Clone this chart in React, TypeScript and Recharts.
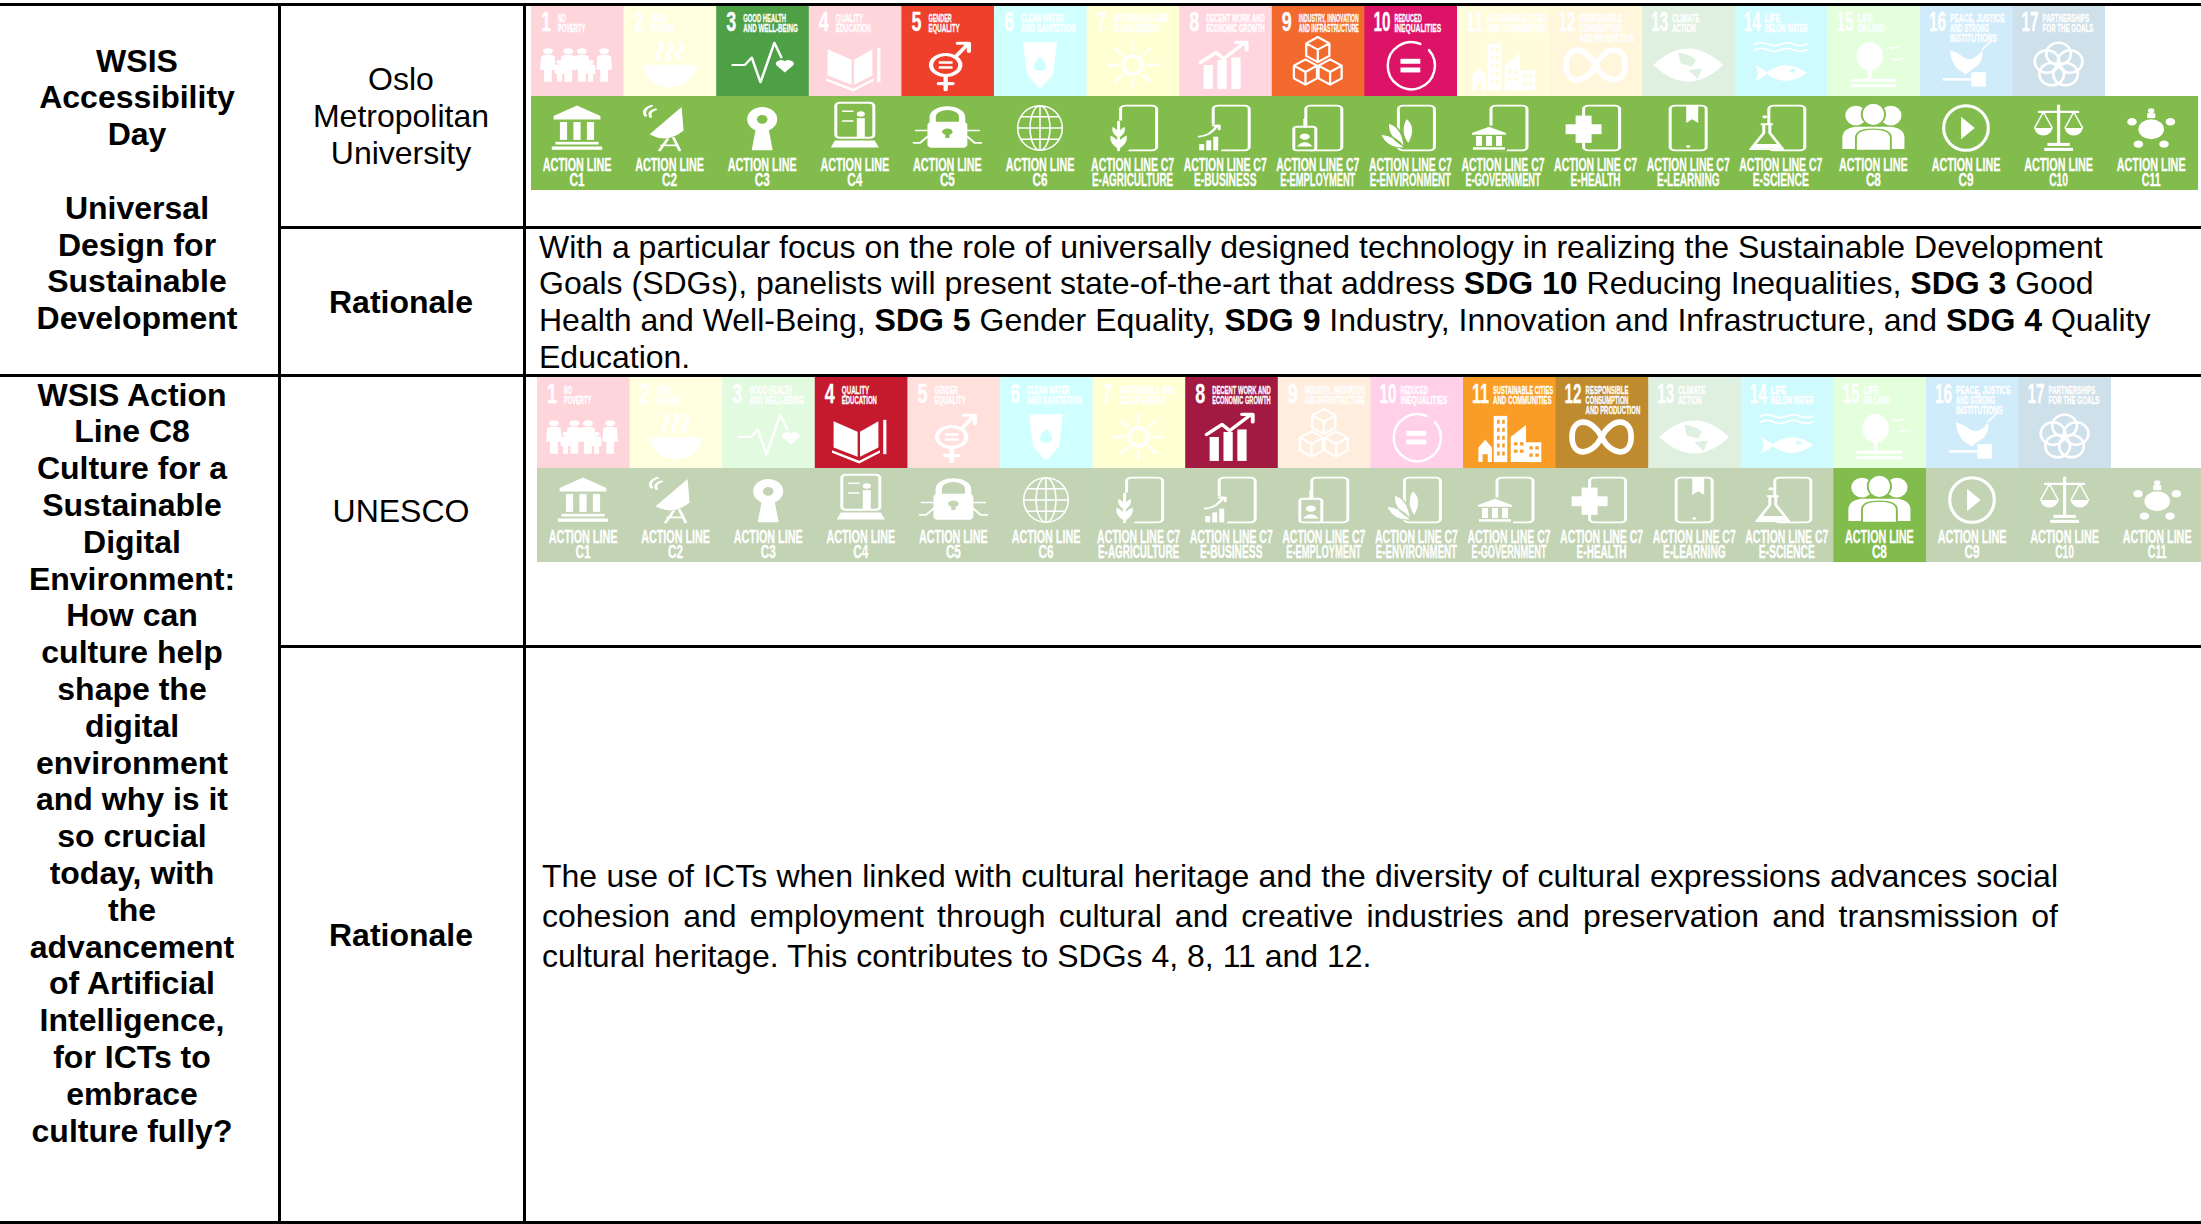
import React from "react";
import { BarChart, Bar, XAxis, YAxis } from "recharts";

const sdgNumbers = [1, 2, 3, 4, 5, 6, 7, 8, 9, 10, 11, 12, 13, 14, 15, 16, 17];
const sdgTitles = [
  ["NO", "POVERTY"],
  ["ZERO", "HUNGER"],
  ["GOOD HEALTH", "AND WELL-BEING"],
  ["QUALITY", "EDUCATION"],
  ["GENDER", "EQUALITY"],
  ["CLEAN WATER", "AND SANITATION"],
  ["AFFORDABLE AND", "CLEAN ENERGY"],
  ["DECENT WORK AND", "ECONOMIC GROWTH"],
  ["INDUSTRY, INNOVATION", "AND INFRASTRUCTURE"],
  ["REDUCED", "INEQUALITIES"],
  ["SUSTAINABLE CITIES", "AND COMMUNITIES"],
  ["RESPONSIBLE", "CONSUMPTION", "AND PRODUCTION"],
  ["CLIMATE", "ACTION"],
  ["LIFE", "BELOW WATER"],
  ["LIFE", "ON LAND"],
  ["PEACE, JUSTICE", "AND STRONG", "INSTITUTIONS"],
  ["PARTNERSHIPS", "FOR THE GOALS"],
];
const actionLabels = [
  ["ACTION LINE", "C1"],
  ["ACTION LINE", "C2"],
  ["ACTION LINE", "C3"],
  ["ACTION LINE", "C4"],
  ["ACTION LINE", "C5"],
  ["ACTION LINE", "C6"],
  ["ACTION LINE C7", "E-AGRICULTURE"],
  ["ACTION LINE C7", "E-BUSINESS"],
  ["ACTION LINE C7", "E-EMPLOYMENT"],
  ["ACTION LINE C7", "E-ENVIRONMENT"],
  ["ACTION LINE C7", "E-GOVERNMENT"],
  ["ACTION LINE C7", "E-HEALTH"],
  ["ACTION LINE C7", "E-LEARNING"],
  ["ACTION LINE C7", "E-SCIENCE"],
  ["ACTION LINE", "C8"],
  ["ACTION LINE", "C9"],
  ["ACTION LINE", "C10"],
  ["ACTION LINE", "C11"],
];

const sdgStrong = ["#E5243B", "#DDA63A", "#4DA046", "#C5192D", "#EF402B", "#26BDE2", "#FCC30B", "#A21942", "#F26A2E", "#DD1367", "#F99D26", "#BF8B2E", "#3F7E44", "#0A97D9", "#56C02B", "#00689D", "#19486A"];
const sdgPale = ["#FFD5DC", "#FFFFE0", "#E2FBE0", "#FFD5DC", "#FFE0DC", "#CFFFFF", "#FFFFD4", "#FFD6E0", "#FFEEDD", "#FFD0E8", "#FFFCDC", "#FFF6DC", "#DFF0E0", "#CFFBFF", "#E3FFDC", "#D0ECFB", "#CEE0EA"];

const upperSdgs = [3, 5, 9, 10];
const lowerSdgs = [4, 8, 11, 12];
const upperActions = [0, 1, 2, 3, 4, 5, 6, 7, 8, 9, 10, 11, 12, 13, 14, 15, 16, 17];
const lowerActions = [14];

const leftTop = ["WSIS", "Accessibility", "Day", "", "Universal", "Design for", "Sustainable", "Development"];
const leftBottom = ["WSIS Action", "Line C8", "Culture for a", "Sustainable", "Digital", "Environment:", "How can", "culture help", "shape the", "digital", "environment", "and why is it", "so crucial", "today, with", "the", "advancement", "of Artificial", "Intelligence,", "for ICTs to", "embrace", "culture fully?"];
const speakerTop = ["Oslo", "Metropolitan", "University"];
const rationaleTop = [
  "With a particular focus on the role of universally designed technology in realizing the Sustainable Development",
  "Goals (SDGs), panelists will present state-of-the-art that address *SDG 10* Reducing Inequalities, *SDG 3* Good",
  "Health and Well-Being, *SDG 5* Gender Equality, *SDG 9* Industry, Innovation and Infrastructure, and *SDG 4* Quality",
  "Education.",
];
const rationaleBottom = [
  "The use of ICTs when linked with cultural heritage and the diversity of cultural expressions advances social",
  "cohesion and employment through cultural and creative industries and preservation and transmission of",
  "cultural heritage. This contributes to SDGs 4, 8, 11 and 12.",
];

const sdgTiles = sdgNumbers.map((n) => ({ name: n, tile: 1 }));
const actionTiles = actionLabels.map((l, i) => ({ name: i, tile: 1 }));

// pictogram stretch per tile, the source pictures are squashed
const sdgIconScale = [[0.97, 0.6], [1, 0.62], [0.87, 0.62], [0.8, 0.66], [0.86, 0.62], [1, 0.6], [0.64, 0.6], [0.77, 0.63], [0.77, 0.7], [0.62, 0.62], [0.85, 0.66], [0.82, 0.82], [0.97, 0.87], [1, 0.58], [0.95, 0.62], [0.9, 0.6], [0.77, 0.7]];
const actionIconScale = [[0.9, 0.66], [1, 0.62], [0.75, 0.62], [1, 0.7], [1.05, 0.62], [0.62, 0.62], [1, 0.62], [1, 0.62], [1, 0.62], [1, 0.62], [1, 0.62], [1, 0.62], [1, 0.62], [1, 0.62], [0.97, 0.62], [0.62, 0.62], [0.8, 0.62], [0.8, 0.62]];

const W = "#fff";
const FONT = "'Liberation Sans', Arial, sans-serif";
const NARROW = "'Liberation Sans Narrow', 'Liberation Sans', sans-serif";

function Ring(p: any) {
  return <circle fill="none" stroke={W} strokeWidth={p.w ?? 4} cx={p.x ?? 0} cy={p.y ?? 0} r={p.r} />;
}
function Stroke({ d, w = 4 }: any) {
  return <path d={d} fill="none" stroke={W} strokeWidth={w} strokeLinecap="round" strokeLinejoin="round" />;
}
function Person({ x, s = 1 }: any) {
  return (
    <g transform={`translate(${x} ${28 - 56 * s}) scale(${s})`}>
      <circle cx={0} cy={5} r={5} fill={W} />
      <path d="M-7 13 Q0 9 7 13 L8 36 H4 V56 H-4 V36 H-8Z" fill={W} />
    </g>
  );
}
function Temple() {
  return (
    <g fill={W}>
      <path d="M0 -34 L26 -18 V-13 H-26 V-18Z" />
      <rect x={-19} y={-9} width={8} height={27} />
      <rect x={-4} y={-9} width={8} height={27} />
      <rect x={11} y={-9} width={8} height={27} />
      <rect x={-24} y={21} width={48} height={4} />
      <rect x={-28} y={28} width={56} height={5} />
    </g>
  );
}

function sdgIcon(n: number, bg: string) {
  switch (n) {
    case 1:
      return <g>{[[-30, 1], [-18, 0.65], [-9, 1], [5, 1], [14, 0.65], [28, 1]].map(([x, s]) => <Person key={x} x={x} s={s} />)}</g>;
    case 2:
      return (
        <g>
          <path d="M-26 0 H26 A26 36 0 0 1 -26 0Z" fill={W} />
          <Stroke d="M-10 -8 q-5 -8 0 -14 q5 -8 0 -14" />
          <Stroke d="M0 -8 q-5 -8 0 -14 q5 -8 0 -14" />
          <Stroke d="M10 -8 q-5 -8 0 -14 q5 -8 0 -14" />
        </g>
      );
    case 3:
      return (
        <g>
          <Stroke d="M-34 0 H-20 L-12 -12 L-2 28 L14 -36 L22 -12" w={3} />
          <path d="M26 12 L16 0 A6 6 0 0 1 26 -6 A6 6 0 0 1 36 0Z" fill={W} />
        </g>
      );
    case 4:
      return (
        <g fill={W}>
          <path d="M-34 -24 L-4 -8 V30 L-34 16Z" />
          <path d="M22 -24 L-1 -8 V30 L22 16Z" />
          <rect x={28} y={-26} width={4} height={52} />
          <path d="M-36 20 L-2 36 L24 20 V24 L-2 40 L-36 24Z" />
        </g>
      );
    case 5:
      return (
        <g>
          <Ring x={-2} y={0} r={17} w={5} />
          <rect x={-10} y={-6} width={16} height={4} fill={W} />
          <rect x={-10} y={2} width={16} height={4} fill={W} />
          <Stroke d="M10 -14 L24 -34 M12 -35 H25 V-22 M-2 18 V40 M-10 30 H6" w={5} />
        </g>
      );
    case 6:
      return (
        <g>
          <path d="M-17 -38 H17 L13 16 L0 40 L-13 16Z" fill={W} />
          <path d="M0 -14 C8 -2 8 10 0 10 C-8 10 -8 -2 0 -14Z" fill={bg} />
        </g>
      );
    case 7:
      return (
        <g>
          <Ring r={15} w={6} />
          <Stroke d="M0 -24 V-38 M0 24 V38 M-24 0 H-38 M24 0 H38 M-17 -17 L-27 -27 M17 17 L27 27 M-17 17 L-27 27 M17 -17 L27 -27" w={4} />
        </g>
      );
    case 8:
      return (
        <g>
          <rect x={-28} y={0} width={12} height={38} fill={W} />
          <rect x={-10} y={-8} width={12} height={46} fill={W} />
          <rect x={8} y={-12} width={12} height={50} fill={W} />
          <Stroke d="M-32 -4 L-12 -20 L-2 -10 L26 -36 M14 -36 H28 V-24" w={5} />
        </g>
      );
    case 9:
      return (
        <g>
          {[[0, -22], [-16, 10], [16, 10]].map(([x, y]) => (
            <Stroke key={x} d={`M${x} ${y - 18} L${x + 15} ${y - 9} V${y + 9} L${x} ${y + 18} L${x - 15} ${y + 9} V${y - 9}Z M${x - 15} ${y - 9} L${x} ${y} L${x + 15} ${y - 9} M${x} ${y} V${y + 18}`} w={3} />
          ))}
        </g>
      );
    case 10:
      return (
        <g>
          <Stroke d="M16 -34 A38 38 0 1 0 30 -24" w={4} />
          <rect x={-16} y={-10} width={32} height={8} fill={W} />
          <rect x={-16} y={4} width={32} height={8} fill={W} />
        </g>
      );
    case 11:
      return (
        <g fill={W}>
          <path d="M-36 38 V16 L-28 4 L-20 16 V38Z" />
          <rect x={-18} y={-32} width={16} height={70} />
          <path d="M2 38 V0 L20 -18 V38Z" />
          <rect x={20} y={8} width={18} height={30} />
          <path d="M-14 -26 h3 v6 h-3Z M-8 -26 h3 v6 h-3Z M-14 -14 h3 v6 h-3Z M-8 -14 h3 v6 h-3Z M-14 -2 h3 v6 h-3Z M-8 -2 h3 v6 h-3Z M-14 10 h3 v6 h-3Z M-8 10 h3 v6 h-3Z M-14 22 h3 v6 h-3Z M-8 22 h3 v6 h-3Z M6 8 h4 v5 h-4Z M13 8 h4 v5 h-4Z M6 19 h4 v5 h-4Z M13 19 h4 v5 h-4Z M24 14 h4 v5 h-4Z M31 14 h4 v5 h-4Z M24 25 h4 v5 h-4Z M31 25 h4 v5 h-4Z M-31 26 h6 v12 h-6Z" fill={bg} />
        </g>
      );
    case 12:
      return <Stroke d="M0 0 C-12 -24 -36 -24 -36 0 C-36 24 -12 24 0 0 C12 -24 36 -24 36 0 C36 24 12 24 0 0" w={7} />;
    case 13:
      return (
        <g>
          <path d="M-36 0 Q0 -38 36 0 Q0 38 -36 0Z" fill={W} />
          <path d="M-10 -14 Q2 -12 8 -6 L4 2 L-8 -2Z M0 6 L14 4 L10 16Z" fill={bg} />
        </g>
      );
    case 14:
      return (
        <g>
          <Stroke d="M-26 -36 q6 -5 13 0 t13 0 t13 0 t13 0 M-26 -26 q6 -5 13 0 t13 0 t13 0 t13 0" w={3} />
          <path d="M-26 0 Q-18 8 -14 12 Q6 -12 26 14 Q6 40 -14 16 Q-18 22 -26 28 Q-20 14 -26 0Z" fill={W} />
          <circle cx={12} cy={10} r={3} fill={bg} />
        </g>
      );
    case 15:
      return (
        <g fill={W}>
          <ellipse cx={-4} cy={-14} rx={14} ry={23} />
          <rect x={-6} y={8} width={4} height={14} />
          <rect x={-24} y={22} width={48} height={5} />
          <rect x={-24} y={31} width={48} height={5} />
          <Stroke d="M14 -26 q4 -4 6 0 q3 -4 6 -2 M20 -8 q4 -4 6 0 q3 -4 6 -2" w={2} />
        </g>
      );
    case 16:
      return (
        <g fill={W}>
          <path d="M-18 -24 Q-8 -20 -2 -12 Q8 -4 18 -24 Q20 -2 6 8 L0 16 L-6 10 Q-16 2 -18 -24Z" />
          <Stroke d="M18 -26 L28 -40" w={2} />
          <rect x={-26} y={22} width={34} height={4} />
          <rect x={6} y={12} width={16} height={24} />
        </g>
      );
    default:
      return (
        <g>
          <Ring x={0} y={-16} r={16} w={3.5} />
          <Ring x={15} y={-5} r={16} w={3.5} />
          <Ring x={9} y={13} r={16} w={3.5} />
          <Ring x={-9} y={13} r={16} w={3.5} />
          <Ring x={-15} y={-5} r={16} w={3.5} />
        </g>
      );
  }
}

function Tablet() {
  return <rect x={-12} y={-36} width={36} height={72} rx={5} fill="none" stroke={W} strokeWidth={3} />;
}

function actionIcon(i: number, bg: string) {
  switch (i) {
    case 0:
      return <Temple />;
    case 1:
      return (
        <g>
          <path d="M12 -34 L-20 10 Q-2 26 14 4Z" fill={W} />
          <Stroke d="M-24 -20 Q-28 -30 -18 -36 M-19 -18 Q-22 -26 -14 -30 M-2 18 L-10 36 M4 16 L10 36 M-8 28 H8" w={3} />
        </g>
      );
    case 2:
      return (
        <g>
          <path d="M-8 -2 H8 L14 36 H-14Z" fill={W} />
          <circle cy={-14} r={20} fill={W} />
          <circle cy={-14} r={7} fill={bg} />
        </g>
      );
    case 3:
      return (
        <g>
          <rect x={-19} y={-36} width={38} height={50} rx={4} fill="none" stroke={W} strokeWidth={3} />
          <rect x={2} y={-14} width={8} height={28} fill={W} />
          <circle cx={6} cy={-20} r={4} fill={W} />
          <Stroke d="M-12 -24 H-2 M-12 -10 H-2" w={2} />
          <path d="M-24 28 L-20 18 H20 L24 28Z" fill={W} />
        </g>
      );
    case 4:
      return (
        <g>
          <Stroke d="M-14 -8 V-18 A14 14 0 0 1 14 -18 V-8" w={6} />
          <rect x={-19} y={-10} width={38} height={42} rx={5} fill={W} />
          <circle cy={6} r={5} fill={bg} />
          <rect x={-2} y={6} width={4} height={10} fill={bg} />
          <Stroke d="M-19 4 H-30 M-19 14 L-26 24 H-32 M19 4 H30 M19 14 L26 24 H32" w={2.5} />
        </g>
      );
    case 5:
      return (
        <g>
          <Ring r={36} w={2.5} />
          <ellipse rx={16} ry={36} fill="none" stroke={W} strokeWidth={2.5} />
          <Stroke d="M0 -36 V36 M-36 0 H36 M-30 -18 H30 M-30 18 H30" w={2.5} />
        </g>
      );
    case 6:
      return (
        <g>
          <Tablet />
          <rect x={-24} y={-12} width={20} height={50} fill={bg} />
          <Stroke d="M-14 36 V-10" w={3} />
          <path d="M-14 34 Q-24 24 -22 12 Q-14 18 -14 26 Q-14 18 -6 12 Q-4 24 -14 34Z M-14 16 Q-22 8 -20 -2 Q-14 4 -14 8 Q-14 4 -8 -2 Q-6 8 -14 16Z" fill={W} />
        </g>
      );
    case 7:
      return (
        <g>
          <Tablet />
          <rect x={-28} y={-6} width={24} height={44} fill={bg} />
          <rect x={-26} y={26} width={5} height={10} fill={W} />
          <rect x={-19} y={20} width={5} height={16} fill={W} />
          <rect x={-12} y={14} width={5} height={22} fill={W} />
          <Stroke d="M-26 14 Q-14 12 -8 -4 M-12 -4 H-6 V2" w={3} />
        </g>
      );
    case 8:
      return (
        <g>
          <Tablet />
          <rect x={-24} y={-2} width={22} height={38} rx={3} fill={bg} stroke={W} strokeWidth={3} />
          <circle cx={-13} cy={14} r={5} fill={W} />
          <path d="M-21 30 Q-13 16 -5 30Z" fill={W} />
          <Stroke d="M-13 -2 V-14" w={3} />
        </g>
      );
    case 9:
      return (
        <g>
          <Tablet />
          <path d="M-22 -8 Q-8 -2 -6 30 Q-24 14 -22 -8Z M-4 -16 Q8 -2 -2 26 Q-12 6 -4 -16Z M-30 10 Q-14 12 -6 32 Q-24 34 -30 10Z" fill={W} stroke={bg} strokeWidth={1.5} />
        </g>
      );
    case 10:
      return (
        <g>
          <Tablet />
          <rect x={-30} y={-4} width={34} height={42} fill={bg} />
          <path d="M-14 -2 L3 8 V11 H-31 V8Z" fill={W} />
          <rect x={-27} y={13} width={6} height={16} fill={W} />
          <rect x={-17} y={13} width={6} height={16} fill={W} />
          <rect x={-7} y={13} width={6} height={16} fill={W} />
          <rect x={-30} y={31} width={32} height={4} fill={W} />
        </g>
      );
    case 11:
      return (
        <g>
          <Tablet />
          <rect x={-30} y={-6} width={36} height={16} fill={W} />
          <rect x={-20} y={-20} width={16} height={44} fill={W} />
        </g>
      );
    case 12:
      return (
        <g>
          <rect x={-18} y={-36} width={36} height={72} rx={5} fill="none" stroke={W} strokeWidth={3} />
          <path d="M-2 -36 H10 V-8 L4 -14 L-2 -8Z" fill={W} />
          <circle cy={30} r={2} fill={W} />
        </g>
      );
    case 13:
      return (
        <g>
          <Tablet />
          <path d="M-20 -6 H-8 M-17 -6 V8 L-30 34 H2 L-11 8 V-6" fill={bg} stroke={W} strokeWidth={3} strokeLinejoin="round" />
          <path d="M-25 26 H-3 L1 33 H-29Z" fill={W} />
          <circle cx={-16} cy={-18} r={2.5} fill={W} />
        </g>
      );
    case 14:
      return (
        <g fill={W}>
          <ellipse cx={-18} cy={-20} rx={11} ry={16} />
          <ellipse cx={18} cy={-20} rx={11} ry={16} />
          <path d="M-32 34 V16 Q-32 0 -18 -2 L18 -2 Q32 0 32 16 V34Z" />
          <ellipse cy={-22} rx={12} ry={18} stroke={bg} strokeWidth={2} />
          <path d="M-18 36 V16 Q-18 2 0 2 Q18 2 18 16 V36Z" stroke={bg} strokeWidth={2} />
        </g>
      );
    case 15:
      return (
        <g>
          <Ring r={36} w={5} />
          <path d="M-8 -18 L14 0 L-8 18Z" fill={W} />
        </g>
      );
    case 16:
      return (
        <g>
          <Stroke d="M0 -36 V24 M-24 -26 H24" w={4} />
          <path d="M-30 0 H-8 A11 12 0 0 1 -30 0Z M8 0 H30 A11 12 0 0 1 8 0Z" fill={W} />
          <Stroke d="M-19 -26 L-30 0 M-19 -26 L-8 0 M19 -26 L8 0 M19 -26 L30 0" w={2} />
          <rect x={-14} y={24} width={28} height={5} fill={W} />
          <rect x={-18} y={32} width={36} height={5} fill={W} />
        </g>
      );
    default:
      return (
        <g fill={W}>
          <circle r={16} cy={2} />
          <circle cy={-28} r={4} />
          <rect x={-5} y={-24} width={10} height={8} />
          {[[-24, -10], [24, -10], [-16, 26], [16, 26]].map(([x, y]) => (
            <circle key={x * y} cx={x} cy={y} r={6} />
          ))}
        </g>
      );
  }
}

// tall condensed lettering of the tiles: small font stretched upward
function Squeezed({ x, y, text, size, stretch, len, anchor = "start" }: any) {
  return (
    <g transform={`translate(${x} ${y}) scale(1 ${stretch})`}>
      <text x={0} y={0} fill={W} stroke={W} strokeWidth={0.2} fontFamily={NARROW} fontWeight="bold" fontSize={size} textAnchor={anchor} dominantBaseline="central" textLength={len} lengthAdjust="spacingAndGlyphs">
        {text}
      </text>
    </g>
  );
}

function SdgShape({ x, y, width, height, payload, strong }: any) {
  const n = payload.name;
  const fill = strong.includes(n) ? sdgStrong[n - 1] : sdgPale[n - 1];
  const [sx, sy] = sdgIconScale[n - 1];
  const titleX = n > 9 ? 30 : 27;
  return (
    <g transform={`translate(${x} ${y})`}>
      <rect width={width + 0.5} height={height} fill={fill} />
      <Squeezed x={n > 9 ? 9 : 10} y={16} text={String(n)} size={17} stretch={1.6} len={n > 9 ? 17 : 10} />
      {sdgTitles[n - 1].map((t, i) => (
        <Squeezed key={t} x={titleX} y={13 + i * 10} text={t} size={6.5} stretch={1.55} len={Math.min(60, t.length * 3.9)} />
      ))}
      <g transform={`translate(46 60) scale(${sx} ${sy})`}>{sdgIcon(n, fill)}</g>
    </g>
  );
}

function ActionShape({ x, y, width, height, payload, strong }: any) {
  const i = payload.name;
  const fill = strong.includes(i) ? "#82BC4C" : "#C2D4B4";
  const [sx, sy] = actionIconScale[i];
  return (
    <g transform={`translate(${x} ${y})`}>
      <rect width={width + 0.5} height={height} fill={fill} />
      <g transform={`translate(46 32) scale(${sx} ${sy})`}>{actionIcon(i, fill)}</g>
      {actionLabels[i].map((t, k) => (
        <Squeezed key={t} x={46} y={68 + k * 15.5} text={t} size={11} stretch={1.75} anchor="middle" len={Math.max(15, Math.min(83, t.length * 6.25))} />
      ))}
    </g>
  );
}

function TileRow({ left, top, height, data, shape }: any) {
  const width = data.length * 92.6;
  return (
    <div style={{ position: "absolute", left, top }}>
      <BarChart width={width} height={height} data={data} margin={{ top: 0, right: 0, bottom: 0, left: 0 }} barCategoryGap={0}>
        <XAxis dataKey="name" type="category" hide />
        <YAxis domain={[0, 1]} hide />
        <Bar dataKey="tile" isAnimationActive={false} shape={shape} />
      </BarChart>
    </div>
  );
}

function TextLine({ x, y, children, bold, center, width, justify }: any) {
  return (
    <div
      style={{
        position: "absolute",
        left: center ? x - 200 : x,
        top: y,
        width: center ? 400 : width,
        transform: "translateY(-50%)",
        textAlign: center ? "center" : justify ? "justify" : "left",
        textAlignLast: justify ? "justify" : undefined,
        whiteSpace: justify ? undefined : "nowrap",
        fontWeight: bold ? "bold" : "normal",
        fontFamily: FONT,
        fontSize: 32,
        lineHeight: "37px",
        color: "#000",
      }}
    >
      {children}
    </div>
  );
}

function Rule({ x1, y1, x2, y2 }: any) {
  return <div style={{ position: "absolute", left: x1, top: y1, width: Math.max(x2 - x1, 3), height: Math.max(y2 - y1, 3), background: "#000" }} />;
}

function withBold(line: string) {
  return line.split("*").map((part, i) => (i % 2 ? <b key={i}>{part}</b> : <span key={i}>{part}</span>));
}

export default function App() {
  return (
    <div style={{ position: "fixed", left: 0, top: 0, width: 2201, height: 1224, background: "#fff", overflow: "hidden" }}>
      <TileRow left={531} top={5} height={91} data={sdgTiles} shape={(p: any) => <SdgShape {...p} strong={upperSdgs} />} />
      <TileRow left={531} top={96} height={94} data={actionTiles} shape={(p: any) => <ActionShape {...p} strong={upperActions} />} />
      <TileRow left={537} top={377} height={91} data={sdgTiles} shape={(p: any) => <SdgShape {...p} strong={lowerSdgs} />} />
      <TileRow left={537} top={468} height={94} data={actionTiles} shape={(p: any) => <ActionShape {...p} strong={lowerActions} />} />

      <Rule x1={0} y1={3} x2={2201} y2={6} />
      <Rule x1={0} y1={374} x2={2201} y2={377} />
      <Rule x1={279} y1={226} x2={2201} y2={229} />
      <Rule x1={279} y1={645} x2={2201} y2={648} />
      <Rule x1={0} y1={1221} x2={2201} y2={1224} />
      <Rule x1={278} y1={3} x2={281} y2={1224} />
      <Rule x1={523} y1={3} x2={526} y2={1224} />

      {leftTop.map((t, i) => (
        <TextLine key={i} x={137} y={60.5 + i * 36.8} bold center>{t}</TextLine>
      ))}
      {leftBottom.map((t, i) => (
        <TextLine key={i} x={132} y={394.5 + i * 36.8} bold center>{t}</TextLine>
      ))}
      {speakerTop.map((t, i) => (
        <TextLine key={t} x={401} y={79 + i * 36.8} center>{t}</TextLine>
      ))}
      <TextLine x={401} y={302} bold center>Rationale</TextLine>
      <TextLine x={401} y={511} center>UNESCO</TextLine>
      <TextLine x={401} y={935} bold center>Rationale</TextLine>
      {rationaleTop.map((t, i) => (
        <TextLine key={i} x={539} y={246.5 + i * 36.8}>{withBold(t)}</TextLine>
      ))}
      {rationaleBottom.map((t, i) => (
        <TextLine key={i} x={542} y={876 + i * 40} width={1516} justify={i < 2}>{t}</TextLine>
      ))}
    </div>
  );
}
